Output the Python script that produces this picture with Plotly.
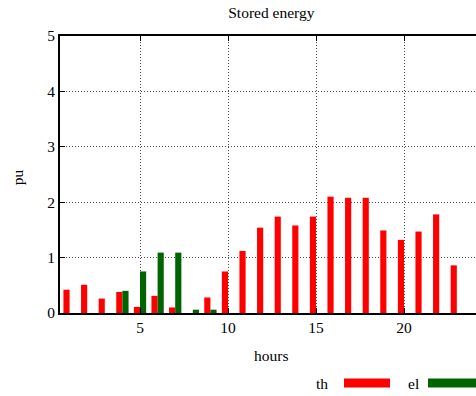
import plotly.graph_objects as go

# Hourly stored energy (per unit) for the thermal and electrical stores
hours = list(range(1, 25))
th = [0.42, 0.51, 0.26, 0.38, 0.11, 0.31, 0.10, 0.00, 0.28, 0.75, 1.12, 1.54,
      1.74, 1.58, 1.74, 2.10, 2.08, 2.08, 1.49, 1.32, 1.47, 1.78, 0.86, 0.00]
el = [0.00, 0.00, 0.00, 0.40, 0.75, 1.09, 1.09, 0.06, 0.06, 0.00, 0.00, 0.00,
      0.00, 0.00, 0.00, 0.00, 0.00, 0.00, 0.00, 0.00, 0.00, 0.00, 0.00, 0.00]
series_names = ["th", "el"]
series_colors = ["#ff0000", "#006400"]
x_ticks = [5, 10, 15, 20]
y_ticks = [0, 1, 2, 3, 4, 5]

FONT = "Liberation Serif, Times New Roman, serif"
FS = 15.5

fig = go.Figure()
for name, vals, col in zip(series_names, [th, el], series_colors):
    fig.add_trace(go.Bar(x=hours, y=vals, name=name, marker_color=col,
                         marker_line_width=0, showlegend=False))

fig.update_layout(
    width=476, height=396,
    margin=dict(l=60, r=0, t=36, b=83),
    paper_bgcolor="white", plot_bgcolor="white",
    barmode="group", bargap=0.3, bargroupgap=0.0,
    font=dict(family=FONT, size=FS, color="black"),
    title=dict(text="Stored energy", x=0.508, xref="paper", xanchor="center",
               y=1 - 13 / 396, yanchor="middle", font=dict(size=FS)),
)
fig.update_xaxes(
    range=[0.4545, 24.09], tickvals=x_ticks, ticks="inside", ticklen=5,
    tickcolor="black", showline=True, linecolor="black", linewidth=1.5,
    mirror="ticks", showgrid=True, gridcolor="rgba(0,0,0,0.7)",
    griddash="1px,2px", gridwidth=1, zeroline=False, tickfont=dict(size=FS),
)
fig.update_yaxes(
    range=[0, 5], tickvals=y_ticks, ticks="inside", ticklen=5,
    tickcolor="black", showline=True, linecolor="black", linewidth=2,
    showgrid=True, gridcolor="rgba(0,0,0,0.7)", griddash="1px,2px",
    gridwidth=1, zeroline=False, tickfont=dict(size=FS),
)

# Axis titles
fig.add_annotation(text="hours", xref="paper", yref="paper", x=0.508,
                   y=-(355 - 313) / 277, showarrow=False, yanchor="middle",
                   font=dict(size=FS))
fig.add_annotation(text="pu", xref="paper", yref="paper", x=-(60 - 17) / 416,
                   y=0.49, textangle=-90, showarrow=False, xanchor="center",
                   font=dict(size=FS))

# Key: label followed by a colour sample, placed below the plot
key_y = -(383 - 313) / 277
key_h = 4.5 / 277
for label, col, tx, x0, x1 in [("th", series_colors[0], 322, 344, 390),
                                ("el", series_colors[1], 413, 428, 476)]:
    fig.add_annotation(text=label, xref="paper", yref="paper",
                       x=(tx - 60) / 416, y=key_y, showarrow=False,
                       xanchor="center", yanchor="middle", font=dict(size=FS))
    fig.add_shape(type="rect", xref="paper", yref="paper",
                  x0=(x0 - 60) / 416, x1=(x1 - 60) / 416,
                  y0=key_y - key_h, y1=key_y + key_h,
                  fillcolor=col, line_width=0)

fig.write_html("out.html")
